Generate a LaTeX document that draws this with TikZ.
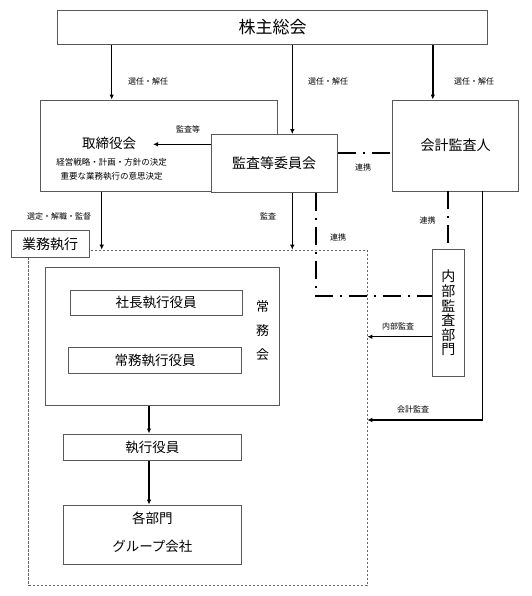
\documentclass[tikz,border=0pt]{standalone}
\usepackage{fontspec}
\setmainfont{Noto Sans CJK JP}
\usetikzlibrary{arrows.meta}
\tikzset{
  box/.style={draw=black!65, line width=0.8pt, fill=white, inner sep=0pt, rectangle, align=center},
  tbig/.style={font=\fontsize{17}{20}\selectfont},
  tmid/.style={font=\fontsize{13.5}{16}\selectfont},
  tsmall/.style={font=\fontsize{8}{10}\selectfont, inner sep=0pt},
  tnote/.style={font=\fontsize{8.5}{10}\selectfont, inner sep=0pt},
  arr/.style={line width=1.5pt, -{Latex[length=5pt,width=4.5pt]}},
  link/.style={line width=1.6pt, dash pattern=on 18pt off 7pt on 2pt off 7pt},
  dashbox/.style={draw=black!60, line width=0.6pt, dash pattern=on 2.5pt off 1.5pt, inner sep=0pt, rectangle}
}
\begin{document}
\begin{tikzpicture}[x=1pt,y=-1pt]
\useasboundingbox (0,0) rectangle (531,596);

% outer dashed area
\node[dashbox, minimum width=338.5pt, minimum height=335.6pt] (exec) at (197.75,417.8) {};

% boxes
\node[box, tbig, minimum width=430pt, minimum height=34.5pt] (sh) at (272.6,27.45) {株主総会};
\node[box, minimum width=237pt, minimum height=91.7pt] (tori) at (159.2,145.85) {};
\node[box, tmid, font=\fontsize{14}{16}\selectfont, minimum width=126.3pt, minimum height=57.8pt] (kansa) at (274.15,163.4) {監査等委員会};
\node[box, font=\fontsize{14}{16}\selectfont, minimum width=125.6pt, minimum height=91pt] (kaikei) at (455.5,145.5) {会計監査人};
\node[box, font=\fontsize{14}{14.6}\selectfont, minimum width=32.7pt, minimum height=127.4pt] (naibu) at (448.35,313) {内\\部\\監\\査\\部\\門};
\node[box, font=\fontsize{14}{16}\selectfont, minimum width=78.3pt, minimum height=27.2pt] (gyomu) at (50.15,244.1) {業務執行};
\node[box, minimum width=233.6pt, minimum height=138.4pt] (joumu) at (162.5,336.5) {};
\node[box, tmid, minimum width=172.3pt, minimum height=25.3pt] (shacho) at (156.15,302.65) {社長執行役員};
\node[box, tmid, minimum width=173.4pt, minimum height=26pt] (jomushikko) at (155,360.3) {常務執行役員};
\node[box, tmid, minimum width=178.1pt, minimum height=26.4pt] (shikko) at (152.35,447.1) {執行役員};
\node[box, tmid, minimum width=178.1pt, minimum height=59.2pt] (kakubu) at (152.35,534.6) {};

% texts inside boxes
\node[font=\fontsize{13.5}{16}\selectfont, inner sep=0pt] (toriT) at (109,143) {取締役会};
\node[tnote] (toriN1) at (111.7,162.7) {経営戦略・計画・方針の決定};
\node[tnote] (toriN2) at (111.7,176.7) {重要な業務執行の意思決定};
\node[font=\fontsize{13}{24}\selectfont, inner sep=0pt, align=center] (joumuT) at (262.7,331) {常\\務\\会};
\node[tmid, inner sep=0pt] (kakuT1) at (152.35,518.5) {各部門};
\node[tmid, inner sep=0pt] (kakuT2) at (152.35,546.3) {グループ会社};

% helper coordinates
\coordinate (cA) at (111.7,0);
\coordinate (cB) at (292.3,0);
\coordinate (cC) at (432.8,0);
\coordinate (cD) at (101.7,0);
\coordinate (cE) at (316,0);
\coordinate (cF) at (448,0);
\coordinate (cG) at (482.7,0);
\coordinate (cH) at (149,0);
\coordinate (yA) at (0,144.3);
\coordinate (yB) at (0,153.3);
\coordinate (yC) at (0,296);
\coordinate (yD) at (0,336.7);
\coordinate (yE) at (0,420);
\coordinate (tipT) at (153,144.3);

% connectors
\draw[arr] (sh.south -| cA) -- (tori.north -| cA);
\draw[arr] (sh.south -| cB) -- (kansa.north -| cB);
\draw[arr] (sh.south -| cC) -- (kaikei.north -| cC);
\draw[arr] (kansa.west |- yA) -- (tipT);
\draw[arr] (tori.south -| cD) -- (exec.north -| cD);
\draw[arr] (kansa.south -| cB) -- (exec.north -| cB);
\draw[link] (kansa.east |- yB) -- (kaikei.west |- yB);
\draw[link] (kansa.south -| cE) |- (naibu.west |- yC);
\draw[link] (kaikei.south -| cF) -- (naibu.north -| cF);
\draw[arr] (naibu.west |- yD) -- (exec.east |- yD);
\draw[arr] (kaikei.south -| cG) |- (exec.east |- yE);
\draw[arr] (joumu.south -| cH) -- (shikko.north -| cH);
\draw[arr] (shikko.south -| cH) -- (kakubu.north -| cH);

% labels
\node[tsmall] (l1) at (148,81.3) {選任・解任};
\node[tsmall] (l2) at (328,81.3) {選任・解任};
\node[tsmall] (l3) at (474,81.3) {選任・解任};
\node[tsmall] (l4) at (188,129) {監査等};
\node[tsmall] (l5) at (59,216) {選定・解職・監督};
\node[tsmall] (l6) at (268,216.7) {監査};
\node[tsmall] (l7) at (363,167) {連携};
\node[tsmall] (l8) at (338,237) {連携};
\node[tsmall] (l9) at (427.7,220) {連携};
\node[tsmall] (l10) at (398,326.7) {内部監査};
\node[tsmall] (l11) at (413,409) {会計監査};
\end{tikzpicture}
\end{document}
